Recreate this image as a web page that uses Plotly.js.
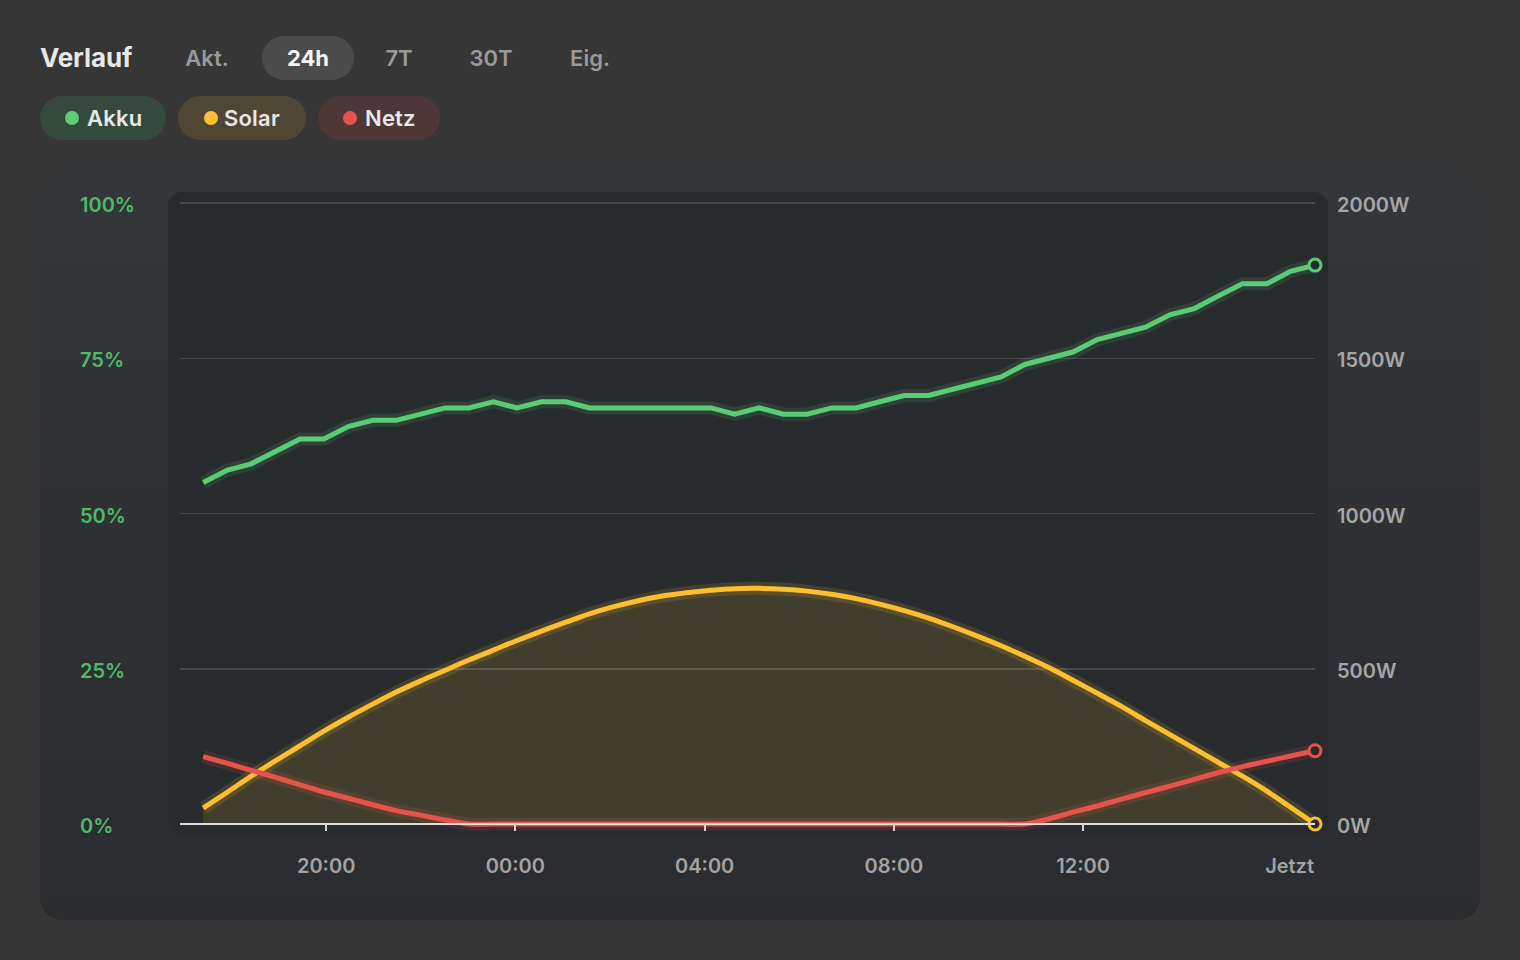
<!DOCTYPE html>
<html>
<head>
<meta charset="utf-8">
<script src="https://cdn.plot.ly/plotly-3.0.1.min.js"></script>
<style>
  html, body { margin:0; padding:0; width:1520px; height:960px; background:#363636; overflow:hidden; font-family: Inter, "Noto Sans", sans-serif; }
  .abs { position:absolute; }
  #title { left:40px; top:36px; height:44px; line-height:44px; font-size:26px; font-weight:700; color:#e8e8e8; letter-spacing:-0.1px; }
  .tab { top:36px; height:44px; line-height:44px; text-align:center; font-size:22px; font-weight:600; color:#9a9a9a; border-radius:22px; }
  .tab.active { background:#4b4b4b; color:#f4f4f4; font-weight:700; }
  .pill { top:96px; height:44px; line-height:44px; border-radius:22px; font-size:22px; font-weight:600; color:#e8e8e8; letter-spacing:0.2px; }
  .dot { position:absolute; top:15px; width:14px; height:14px; border-radius:50%; }
  #card { left:40px; top:168px; width:1440px; height:752px; border-radius:22px; background:linear-gradient(180deg,#33373a 0%,#2e3033 55%,#2b2c2f 100%); }
  #inner { left:168px; top:192px; width:1160px; height:643px; border-radius:14px; background:#282b2e; }
  #chart { left:0; top:0; width:1520px; height:960px; }
</style>
</head>
<body>
<div id="title" class="abs">Verlauf</div>
<div class="abs tab" style="left:162px;width:90px;">Akt.</div>
<div class="abs tab active" style="left:262px;width:92px;">24h</div>
<div class="abs tab" style="left:354px;width:90px;">7T</div>
<div class="abs tab" style="left:446px;width:90px;">30T</div>
<div class="abs tab" style="left:545px;width:90px;">Eig.</div>

<div class="abs pill" style="left:40px;width:126px;background:#354a3c;"><span class="dot" style="left:25px;background:#5bcf76;"></span><span style="position:absolute;left:47px;">Akku</span></div>
<div class="abs pill" style="left:178px;width:128px;background:#4f4734;"><span class="dot" style="left:26px;background:#fbbf3a;"></span><span style="position:absolute;left:46px;">Solar</span></div>
<div class="abs pill" style="left:318px;width:122px;background:#4d3837;"><span class="dot" style="left:25px;background:#e5544c;"></span><span style="position:absolute;left:47px;">Netz</span></div>

<div id="card" class="abs"></div>
<div id="inner" class="abs"></div>
<div id="chart" class="abs"></div>

<script>
// ---- data ----
const times = [
  "2024-06-14 17:24","2024-06-14 17:55","2024-06-14 18:25","2024-06-14 18:56","2024-06-14 19:27",
  "2024-06-14 19:57","2024-06-14 20:28","2024-06-14 20:59","2024-06-14 21:29","2024-06-14 22:00",
  "2024-06-14 22:31","2024-06-14 23:01","2024-06-14 23:32","2024-06-15 00:02","2024-06-15 00:33",
  "2024-06-15 01:04","2024-06-15 01:34","2024-06-15 02:05","2024-06-15 02:36","2024-06-15 03:06",
  "2024-06-15 03:37","2024-06-15 04:08","2024-06-15 04:38","2024-06-15 05:09","2024-06-15 05:40",
  "2024-06-15 06:10","2024-06-15 06:41","2024-06-15 07:12","2024-06-15 07:42","2024-06-15 08:13",
  "2024-06-15 08:44","2024-06-15 09:14","2024-06-15 09:45","2024-06-15 10:16","2024-06-15 10:46",
  "2024-06-15 11:17","2024-06-15 11:47","2024-06-15 12:18","2024-06-15 12:49","2024-06-15 13:19",
  "2024-06-15 13:50","2024-06-15 14:21","2024-06-15 14:51","2024-06-15 15:22","2024-06-15 15:53",
  "2024-06-15 16:23","2024-06-15 16:54"
];
const akku = [55,57,58,60,62,62,64,65,65,66,67,67,68,67,68,68,67,67,67,67,67,67,66,67,66,66,67,67,68,69,69,70,71,72,74,75,76,78,79,80,82,83,85,87,87,89,90];
const solar = [51,103,154,204,252,299,344,386,425,461,495,528,560,591,621,650,677,700,719,734,745,753,758,759,756,750,740,726,708,687,663,636,606,574,540,503,463,421,378,333,288,243,199,154,106,54,0];
const netz = [217,195,173,150,126,103,83,62,43,28,13,0,0,0,0,0,0,0,0,0,0,0,0,0,0,0,0,0,0,0,0,0,0,0,0,17,38,58,80,101,122,144,165,185,202,219,236];

const rangeStart = "2024-06-14 16:54";
const rangeEnd = "2024-06-15 16:54";
const xTickVals = ["2024-06-14 20:00","2024-06-15 00:00","2024-06-15 04:00","2024-06-15 08:00","2024-06-15 12:00"];
const xTickText = ["20:00","00:00","04:00","08:00","12:00"];
const nowTickText = ["Jetzt"];
const pctTicks = [0,25,50,75,100];
const pctText = ["0%","25%","50%","75%","100%"];
const wTicks = [0,500,1000,1500,2000];
const wText = ["0W","500W","1000W","1500W","2000W"];

const GREEN = "#5acd74", YELLOW = "#fbbf30", RED = "#e5534b";
const last = times.length - 1;

const traces = [
  // glows
  {x:times, y:akku, yaxis:'y', mode:'lines', line:{color:'rgba(90,205,116,0.14)', width:13}, hoverinfo:'skip'},
  {x:times, y:solar, yaxis:'y2', mode:'lines', line:{color:'rgba(251,191,48,0.14)', width:13, shape:'spline', smoothing:1}, hoverinfo:'skip'},
  {x:times, y:netz, yaxis:'y2', mode:'lines', line:{color:'rgba(229,83,75,0.14)', width:13, shape:'spline', smoothing:1}, hoverinfo:'skip'},
  // solar with fill
  {x:times, y:solar, yaxis:'y2', mode:'lines', fill:'tozeroy', fillcolor:'rgba(251,191,36,0.13)', line:{color:YELLOW, width:5, shape:'spline', smoothing:1}, name:'Solar'},
  {x:times, y:netz, yaxis:'y2', mode:'lines', line:{color:RED, width:5, shape:'spline', smoothing:1}, name:'Netz'},
  {x:times, y:akku, yaxis:'y', mode:'lines', line:{color:GREEN, width:5}, name:'Akku'},
  // end markers (on overlay axis x2, same range)
  {x:[times[last]], y:[akku[last]], xaxis:'x2', yaxis:'y', mode:'markers', cliponaxis:false, marker:{size:12, color:'#282b2e', line:{color:GREEN, width:3}}, hoverinfo:'skip'},
  {x:[times[last]], y:[netz[last]], xaxis:'x2', yaxis:'y2', mode:'markers', cliponaxis:false, marker:{size:12, color:'#282b2e', line:{color:RED, width:3}}, hoverinfo:'skip'},
  {x:[times[last]], y:[solar[last]], xaxis:'x2', yaxis:'y2', mode:'markers', cliponaxis:false, marker:{size:12, color:'#282b2e', line:{color:YELLOW, width:3}}, hoverinfo:'skip'}
];

const tickFontX = {family:'Inter, sans-serif', size:20, color:'#a3a3a3', weight:600};
const layout = {
  width:1520, height:960,
  margin:{l:0, r:0, t:0, b:0, pad:0},
  paper_bgcolor:'rgba(0,0,0,0)', plot_bgcolor:'rgba(0,0,0,0)',
  showlegend:false,
  font:{family:'Inter, sans-serif'},
  xaxis:{
    type:'date', domain:[179.5/1520, 1315/1520], range:[rangeStart, rangeEnd],
    tickmode:'array', tickvals:xTickVals, ticktext:xTickText,
    ticks:'inside', ticklen:7, tickwidth:2, tickcolor:'#d4d4d4',
    showgrid:false, showline:false, zeroline:false, fixedrange:true,
    tickfont:tickFontX, ticklabelstandoff:21, automargin:false
  },
  xaxis2:{
    type:'date', overlaying:'x', anchor:'y', side:'bottom', range:[rangeStart, rangeEnd],
    tickmode:'array', tickvals:[rangeEnd], ticktext:nowTickText,
    ticks:'inside', ticklen:7, tickwidth:2, tickcolor:'#d4d4d4',
    ticklabelposition:'outside left',
    showgrid:false, showline:false, zeroline:false, fixedrange:true,
    tickfont:tickFontX, ticklabelstandoff:21, automargin:false
  },
  yaxis:{
    domain:[129/960, 764/960], range:[-1.127, 101.127],
    anchor:'free', position:79/1520, side:'right',
    tickmode:'array', tickvals:pctTicks, ticktext:pctText,
    ticks:'', showline:false, ticklabelshift:2,
    showgrid:true, gridcolor:'#45484b', gridwidth:1.5,
    zeroline:true, zerolinecolor:'#dcdcdc', zerolinewidth:2, zerolinelayer:'above traces',
    tickfont:{family:'Inter, sans-serif', size:20, color:'#4fba68', weight:600},
    fixedrange:true, automargin:false
  },
  yaxis2:{
    overlaying:'y', anchor:'free', position:1336/1520, side:'right',
    range:[-22.54, 2022.54],
    tickmode:'array', tickvals:wTicks, ticktext:wText,
    ticks:'', showline:false, showgrid:false, zeroline:false, ticklabelshift:2,
    tickfont:{family:'Inter, sans-serif', size:20, color:'#a6a6a6', weight:600},
    fixedrange:true, automargin:false
  }
};

Plotly.newPlot('chart', traces, layout, {displayModeBar:false, staticPlot:true});
</script>
</body>
</html>
